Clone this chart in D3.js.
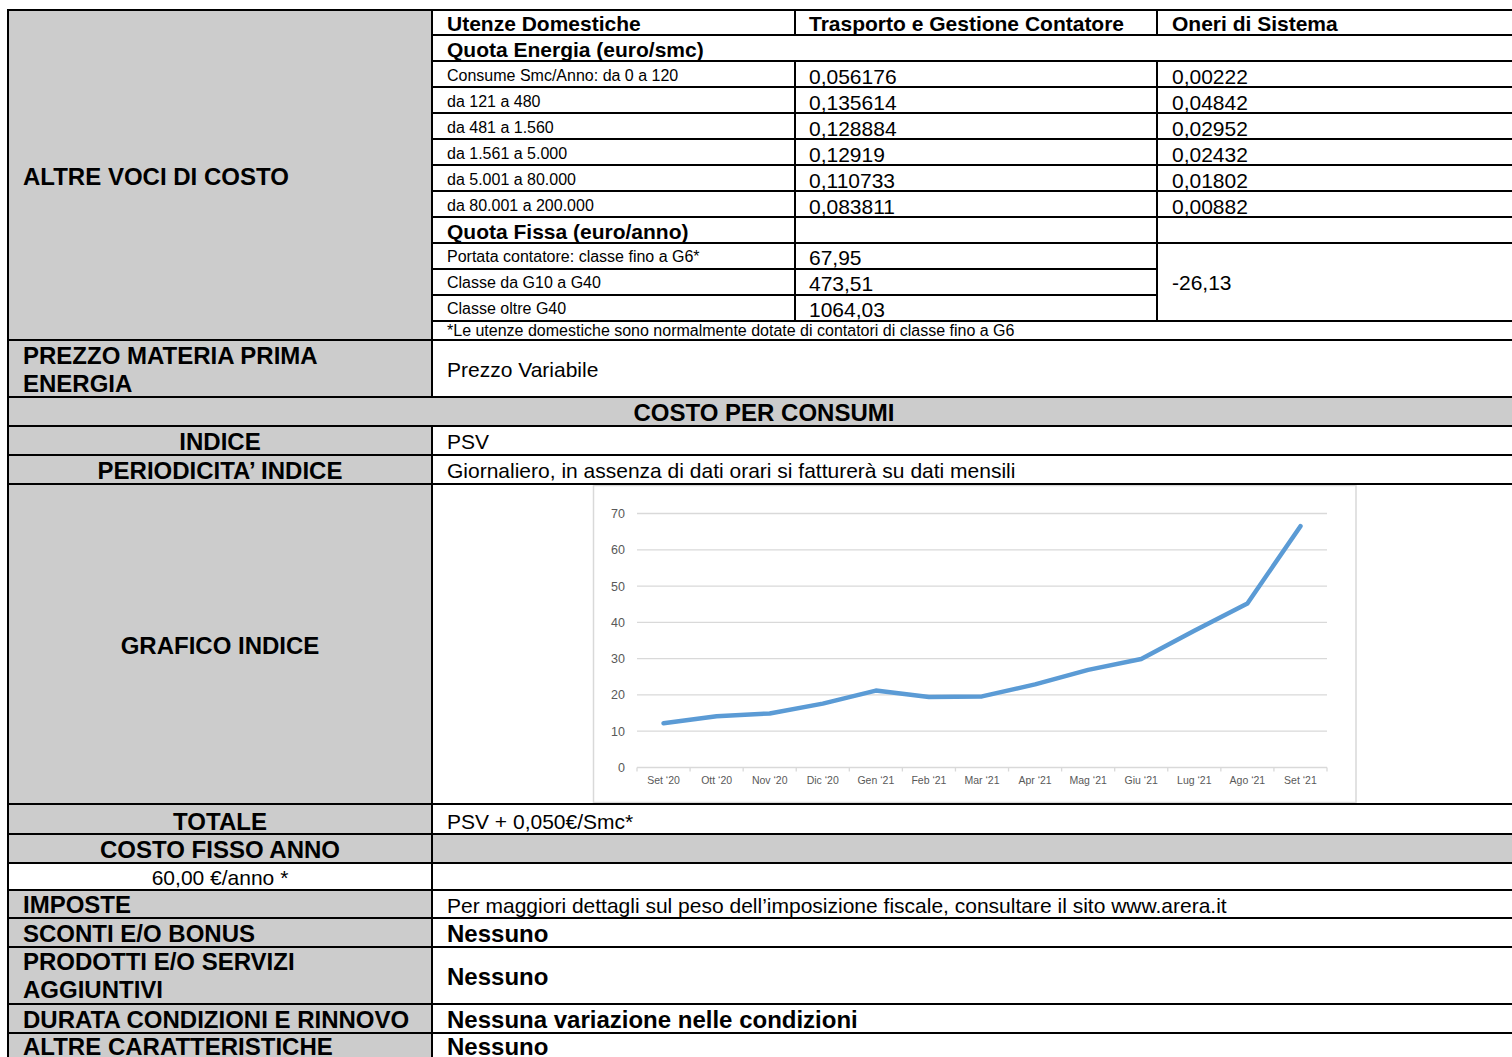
<!DOCTYPE html>
<html>
<head>
<meta charset="utf-8">
<script src="https://cdn.jsdelivr.net/npm/d3@7"></script>
<style>
  body { margin: 0; background: #fff; }
  svg { display: block; font-family: "Liberation Sans", Arial, sans-serif; }
</style>
</head>
<body>
<script>
// tariff table values
const energyBands = ["Consume Smc/Anno: da 0 a 120", "da 121 a 480", "da 481 a 1.560",
    "da 1.561 a 5.000", "da 5.001 a 80.000", "da 80.001 a 200.000"];
const trasportoEnergia = ["0,056176", "0,135614", "0,128884", "0,12919", "0,110733", "0,083811"];
const oneriEnergia = ["0,00222", "0,04842", "0,02952", "0,02432", "0,01802", "0,00882"];
const fissaClasses = ["Portata contatore: classe fino a G6*", "Classe da G10 a G40", "Classe oltre G40"];
const fissaValues = ["67,95", "473,51", "1064,03"];
const oneriFissa = "-26,13";

// PSV index chart
const months = ["Set ‘20", "Ott ‘20", "Nov ‘20", "Dic ‘20", "Gen ‘21", "Feb ‘21", "Mar ‘21",
    "Apr ‘21", "Mag ‘21", "Giu ‘21", "Lug ‘21", "Ago ‘21", "Set ‘21"];
const psvValues = [12.2, 14.1, 14.9, 17.6, 21.2, 19.4, 19.6, 22.9, 26.9, 29.9, 37.7, 45.2, 66.5];
const yTicks = [0, 10, 20, 30, 40, 50, 60, 70];

const W = 1512, H = 1057;
const X0 = 8, X1 = 432, X2 = 795, X3 = 1157, XR = 1520;
const GRAY = "#cccccc";

const svg = d3.select("body").append("svg").attr("width", W).attr("height", H);
const fills = svg.append("g");
const chart = svg.append("g");
const grid = svg.append("g");
const texts = svg.append("g");

function txt(x, cy, s, size, bold, anchor = "start") {
    texts.append("text")
        .attr("x", x)
        .attr("y", cy + size * 0.36)
        .attr("font-size", size)
        .attr("font-weight", bold ? 700 : 400)
        .attr("text-anchor", anchor)
        .attr("fill", "#000")
        .text(s);
}
function fill(x0, y0, x1, y1, c) {
    fills.append("rect").attr("x", x0).attr("y", y0).attr("width", x1 - x0).attr("height", y1 - y0).attr("fill", c);
}
function hline(y, x0, x1) {
    grid.append("line").attr("x1", x0).attr("x2", x1).attr("y1", y).attr("y2", y)
        .attr("stroke", "#000").attr("stroke-width", 2);
}
function vline(x, y0, y1) {
    grid.append("line").attr("x1", x).attr("x2", x).attr("y1", y0).attr("y2", y1)
        .attr("stroke", "#000").attr("stroke-width", 2);
}

// ---- top block: ALTRE VOCI DI COSTO ----
fill(X0, 10, X1, 340, GRAY);
txt(23, 176, "ALTRE VOCI DI COSTO", 24, true);
txt(447, 23, "Utenze Domestiche", 21, true);
txt(809, 23, "Trasporto e Gestione Contatore", 21, true);
txt(1172, 23, "Oneri di Sistema", 21, true);
txt(447, 49, "Quota Energia (euro/smc)", 21, true);

const rowH = 26;
energyBands.forEach((b, i) => {
    const cy = 61 + i * rowH + 14;
    txt(447, cy, b, 16, false);
    txt(809, cy + 1, trasportoEnergia[i], 21, false);
    txt(1172, cy + 1, oneriEnergia[i], 21, false);
});
txt(447, 231, "Quota Fissa (euro/anno)", 21, true);
fissaClasses.forEach((c, i) => {
    const cy = 243 + i * rowH + 13;
    txt(447, cy, c, 16, false);
    txt(809, cy + 1, fissaValues[i], 21, false);
});
txt(1172, 282, oneriFissa, 21, false);
txt(447, 330, "*Le utenze domestiche sono normalmente dotate di contatori di classe fino a G6", 16, false);

// horizontal rules of top block
hline(10, X0 - 1, XR);
[35, 61].forEach(y => hline(y, X1, XR));
d3.range(87, 244, rowH).forEach(y => hline(y, X1, XR));
[269, 295].forEach(y => hline(y, X1, X3));
hline(321, X1, XR);
vline(X2, 10, 35); vline(X3, 10, 35);
vline(X2, 61, 321); vline(X3, 61, 321);

// ---- prezzo materia prima ----
fill(X0, 340, X1, 397, GRAY);
txt(23, 355, "PREZZO MATERIA PRIMA", 24, true);
txt(23, 383, "ENERGIA", 24, true);
txt(447, 369, "Prezzo Variabile", 21, false);

fill(X0, 397, XR, 426, GRAY);
txt(764, 412, "COSTO PER CONSUMI", 24, true, "middle");

// ---- lower block ----
const lowerEdges = [426, 455, 484, 804, 834, 863, 890, 918, 947, 1004, 1033, 1062];
fill(X0, 426, X1, 863, GRAY);
fill(X1, 834, XR, 863, GRAY);
fill(X0, 890, X1, 1062, GRAY);

txt(220, 441, "INDICE", 24, true, "middle");
txt(447, 441, "PSV", 21, false);
txt(220, 470, "PERIODICITA’ INDICE", 24, true, "middle");
txt(447, 470, "Giornaliero, in assenza di dati orari si fatturerà su dati mensili", 21, false);
txt(220, 645, "GRAFICO INDICE", 24, true, "middle");
txt(220, 821, "TOTALE", 24, true, "middle");
txt(447, 821, "PSV + 0,050€/Smc*", 21, false);
txt(220, 849, "COSTO FISSO ANNO", 24, true, "middle");
txt(220, 877, "60,00 €/anno *", 21, false, "middle");
txt(23, 904, "IMPOSTE", 24, true);
txt(447, 905, "Per maggiori dettagli sul peso dell’imposizione fiscale, consultare il sito www.arera.it", 21, false);
txt(23, 933, "SCONTI E/O BONUS", 24, true);
txt(447, 933, "Nessuno", 24, true);
txt(23, 961, "PRODOTTI E/O SERVIZI", 24, true);
txt(23, 989, "AGGIUNTIVI", 24, true);
txt(447, 976, "Nessuno", 24, true);
txt(23, 1019, "DURATA CONDIZIONI E RINNOVO", 24, true);
txt(447, 1019, "Nessuna variazione nelle condizioni", 24, true);
txt(23, 1046, "ALTRE CARATTERISTICHE", 24, true);
txt(447, 1046, "Nessuno", 24, true);

[340, 397].concat(lowerEdges).forEach(y => hline(y, X0 - 1, XR));
vline(X0, 9, 1062);
vline(X1, 10, 397);
vline(X1, 426, 1062);

// ---- PSV chart ----
chart.append("rect")
    .attr("x", 593.5).attr("y", 485.5).attr("width", 762.5).attr("height", 317)
    .attr("fill", "#fff").attr("stroke", "#d9d9d9").attr("stroke-width", 1.5);

const x = d3.scaleBand().domain(months).range([637, 1327]);
const y = d3.scaleLinear().domain([0, 70]).range([767.5, 513.5]);

chart.append("g").selectAll("line")
    .data(yTicks.slice(1))
    .join("line")
    .attr("x1", x.range()[0]).attr("x2", x.range()[1])
    .attr("y1", d => y(d)).attr("y2", d => y(d))
    .attr("stroke", "#d9d9d9").attr("stroke-width", 1.3);

// category axis with tick marks between bands
const xAxis = chart.append("g");
xAxis.append("line")
    .attr("x1", x.range()[0]).attr("x2", x.range()[1])
    .attr("y1", y(0)).attr("y2", y(0))
    .attr("stroke", "#d9d9d9").attr("stroke-width", 1.3);
xAxis.selectAll("line.tick")
    .data(d3.range(months.length + 1))
    .join("line")
    .attr("class", "tick")
    .attr("x1", i => x.range()[0] + i * x.step()).attr("x2", i => x.range()[0] + i * x.step())
    .attr("y1", y(0)).attr("y2", y(0) + 4)
    .attr("stroke", "#d9d9d9").attr("stroke-width", 1.3);
xAxis.selectAll("text")
    .data(months)
    .join("text")
    .attr("x", d => x(d) + x.bandwidth() / 2)
    .attr("y", 784)
    .attr("text-anchor", "middle")
    .attr("font-size", 10.5)
    .attr("fill", "#595959")
    .text(d => d);

const yAxis = chart.append("g")
    .attr("transform", `translate(${x.range()[0]},0)`)
    .call(d3.axisLeft(y).tickValues(yTicks).tickSize(0).tickPadding(12));
yAxis.select(".domain").remove();
yAxis.selectAll("text")
    .attr("font-size", 12.5)
    .attr("font-family", "Liberation Sans, Arial, sans-serif")
    .attr("fill", "#595959");

const line = d3.line()
    .x((d, i) => x(months[i]) + x.bandwidth() / 2)
    .y(d => y(d));

chart.append("path")
    .datum(psvValues)
    .attr("d", line)
    .attr("fill", "none")
    .attr("stroke", "#5b9bd5")
    .attr("stroke-width", 4.5)
    .attr("stroke-linejoin", "round")
    .attr("stroke-linecap", "round");
</script>
</body>
</html>
